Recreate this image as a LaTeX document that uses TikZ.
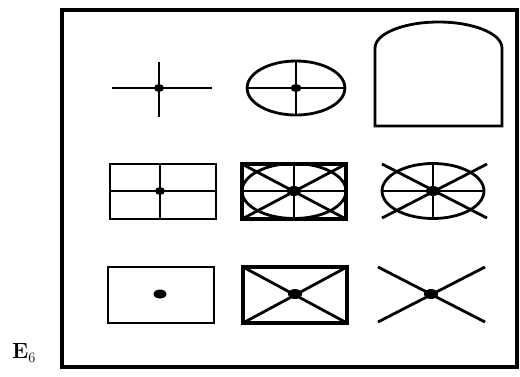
\documentclass[tikz,border=0pt]{standalone}
\begin{document}
\begin{tikzpicture}[x=1pt,y=-1pt,
  frame/.style={line width=3.4pt},
  sym/.style={line width=2.8pt},
  dotc/.style={fill=black}]
\useasboundingbox (0,0) rectangle (520,376);
% outer frame
\draw[frame] (62,10) rectangle (517,367);
% row 1: cross
\coordinate (c1) at (159,88);
\draw[sym] (112,88) -- (212,88);
\draw[sym] (159,62) -- (159,117);
\fill[dotc] (c1) ellipse (5 and 4);
% row 1: ellipse with cross
\coordinate (c2) at (296,88);
\draw[sym] (c2) ellipse (49 and 27);
\draw[sym] (247,88) -- (345,88);
\draw[sym] (296,61) -- (296,115);
\fill[dotc] (c2) ellipse (5.5 and 4);
% row 1: arch
\draw[sym] (375,48) -- (375,126) -- (502,126) -- (502,48) arc[start angle=0,end angle=180,x radius=63.5,y radius=-26];
% row 2: box with cross
\coordinate (c4) at (160,191);
\draw[sym] (110,164) rectangle (216,219);
\draw[sym] (110,191) -- (216,191);
\draw[sym] (160,164) -- (160,219);
\fill[dotc] (c4) ellipse (5 and 4);
% row 2: box with ellipse and spokes
\coordinate (c5) at (294,191);
\draw[line width=3.4pt] (242,164) rectangle (346,219);
\draw[sym] (c5) ellipse (52 and 27.5);
\draw[sym] (242,191) -- (346,191);
\draw[sym] (294,164) -- (294,219);
\draw[sym] (242,164) -- (346,219);
\draw[sym] (242,219) -- (346,164);
\fill[dotc] (c5) ellipse (7 and 5);
% row 2: ellipse with spokes and crossing diagonals
\coordinate (c6) at (433,191);
\draw[sym] (c6) ellipse (51 and 27.5);
\draw[sym] (382,191) -- (484,191);
\draw[sym] (433,164) -- (433,219);
\draw[sym] (382,164) -- (487,218);
\draw[sym] (382,218) -- (487,164);
\fill[dotc] (c6) ellipse (7 and 5);
% row 3: box with dot
\coordinate (c7) at (160,294);
\draw[sym] (108,267) rectangle (214,323);
\fill[dotc] (c7) ellipse (6.5 and 4.5);
% row 3: box with diagonals
\coordinate (c8) at (295,294);
\draw[line width=3.2pt] (243,267) rectangle (347,323);
\draw[sym] (243,267) -- (347,323);
\draw[sym] (243,323) -- (347,267);
\fill[dotc] (c8) ellipse (7 and 5);
% row 3: X
\coordinate (c9) at (431,294);
\draw[sym] (378,267) -- (485,322);
\draw[sym] (378,322) -- (485,267);
\fill[dotc] (c9) ellipse (7 and 5);
% label
\node[inner sep=0pt,font=\fontsize{22}{26}\selectfont] (lbl) at (24,353) {\textbf{E}$_6$};
\end{tikzpicture}
\end{document}
